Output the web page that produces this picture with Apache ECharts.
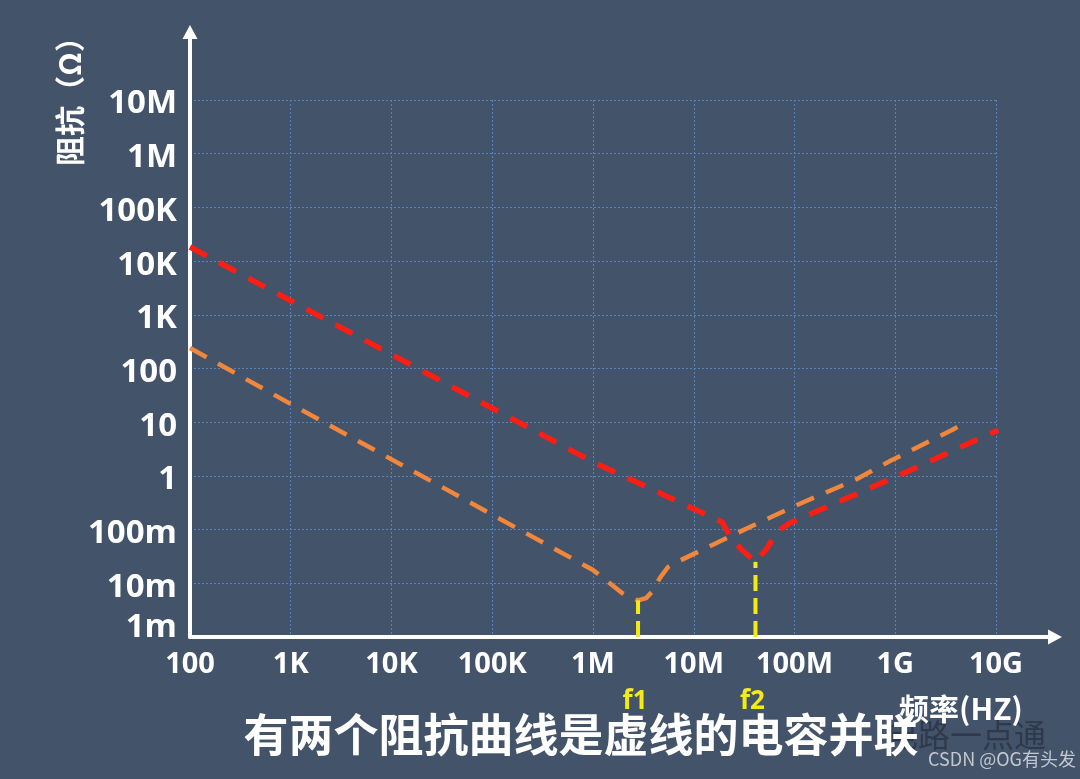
<!DOCTYPE html>
<html>
<head>
<meta charset="utf-8">
<script src="https://cdn.jsdelivr.net/npm/echarts@6/dist/echarts.min.js"></script>
<style>
html,body{margin:0;padding:0;background:#43536a;}
#chart{width:1080px;height:779px;}
</style>
</head>
<body>
<div id="chart"></div>
<script>
// ---- data ----
const xTickLabels = ['100','1K','10K','100K','1M','10M','100M','1G','10G'];
const yTickLabels = ['1m','10m','100m','1','10','100','1K','10K','100K','1M','10M'];

// red dashed impedance curve (capacitor A)
const redFreq      = [100, 1e6, 19.1e6, 22.9e6, 30.1e6, 41e6, 54.6e6, 65.5e6, 90.2e6, 1.11e9, 10.5e9];
const redImpedance = [18300, 1.82, 0.139, 0.076, 0.0417, 0.025, 0.0474, 0.090, 0.133, 1.04, 7.16];

// orange dashed impedance curve (capacitor B)
const orangeFreq      = [100, 1000, 1e6, 1.94e6, 2.8e6, 3.36e6, 3.85e6, 4.62e6, 5.55e6, 6.22e6, 24.5e6, 106e6, 417e6, 887e6, 3.66e9, 4.92e9];
const orangeImpedance = [241, 21.8, 0.0177, 0.0066, 0.0048, 0.0053, 0.0069, 0.0126, 0.0201, 0.0229, 0.0793, 0.287, 0.875, 1.89, 7.16, 9.66];

// resonance markers
const markerNames = ['f1', 'f2'];
const markerFreq  = [2.8e6, 41e6];
const markerTop   = [0.0048, 0.025];

// ---- chart ----
const chart = echarts.init(document.getElementById('chart'));
const FONT = '"Open Sans", "Liberation Sans", Arial, sans-serif';
const CJK = '"Noto Sans CJK SC", sans-serif';

const pairs = (xs, ys) => xs.map((x, i) => [x, ys[i]]);

const markerSeries = markerNames.map((name, i) => ({
  type: 'line',
  xAxisIndex: 0, yAxisIndex: 0,
  symbol: 'circle', symbolSize: 1, showSymbol: true,
  itemStyle: { color: '#f5eb14' },
  lineStyle: { color: '#f5eb14', width: 4, type: [16, 7], cap: 'butt' },
  z: 5,
  silent: true,
  data: [
    { value: [markerFreq[i], 1e-3],
      label: { show: true, formatter: name, position: 'bottom', distance: 51, offset: [-3, 0],
               color: '#f5eb14', fontSize: 26, fontWeight: 'bold', fontFamily: FONT } },
    { value: [markerFreq[i], markerTop[i]] }
  ]
}));

chart.setOption({
  backgroundColor: '#43536a',
  animation: false,
  grid: [
    { left: 190, top: 100, width: 806, height: 537, outerBoundsMode: 'none' },
    { left: 190, top: 32, right: 25, bottom: 142, outerBoundsMode: 'none' }
  ],
  xAxis: [
    {
      gridIndex: 0, type: 'log', logBase: 10, min: 100, max: 1e10, interval: 1,
      axisLine: { show: false }, axisTick: { show: false },
      axisLabel: {
        color: '#ffffff', fontSize: 29, fontWeight: 'bold', fontFamily: FONT, margin: 13,
        formatter: v => xTickLabels[Math.round(Math.log10(v)) - 2]
      },
      splitLine: { show: true, lineStyle: { color: '#5a84bd', width: 1, type: [2, 2] } }
    },
    {
      gridIndex: 1, type: 'value', min: 0, max: 1,
      axisLine: { show: true, onZero: false, symbol: ['none', 'triangle'], symbolSize: [15, 14],
                  lineStyle: { color: '#ffffff', width: 4 } },
      axisTick: { show: false }, axisLabel: { show: false }, splitLine: { show: false }
    }
  ],
  yAxis: [
    {
      gridIndex: 0, type: 'log', logBase: 10, min: 1e-3, max: 1e7, interval: 1,
      axisLine: { show: false }, axisTick: { show: false },
      axisLabel: {
        color: '#ffffff', fontSize: 33, fontWeight: 'bold', fontFamily: FONT, margin: 13,
        padding: [8, 0, 0, 0],
        formatter: v => {
          const idx = Math.round(Math.log10(v)) + 3;
          return idx === 0 ? '{low|' + yTickLabels[idx] + '}' : yTickLabels[idx];
        },
        rich: { low: { color: '#ffffff', fontSize: 33, fontWeight: 'bold', fontFamily: FONT, padding: [0, 0, 26, 0] } }
      },
      splitLine: { show: true, lineStyle: { color: '#5a84bd', width: 1, type: [2, 2] } }
    },
    {
      gridIndex: 1, type: 'value', min: 0, max: 1,
      axisLine: { show: true, onZero: false, symbol: ['none', 'triangle'], symbolSize: [15, 14],
                  lineStyle: { color: '#ffffff', width: 4 } },
      axisTick: { show: false }, axisLabel: { show: false }, splitLine: { show: false }
    }
  ],
  series: [
    {
      type: 'line', xAxisIndex: 0, yAxisIndex: 0, symbol: 'none', clip: false, z: 3,
      lineStyle: { color: '#f0873c', width: 4.5, type: [19, 13], cap: 'butt' },
      data: pairs(orangeFreq, orangeImpedance)
    },
    {
      type: 'line', xAxisIndex: 0, yAxisIndex: 0, symbol: 'none', clip: false, z: 4,
      lineStyle: { color: '#fa1e14', width: 5.5, type: [19, 14], cap: 'butt' },
      data: pairs(redFreq, redImpedance)
    },
    ...markerSeries
  ],
  graphic: [
    { type: 'text', x: 70, y: 94, rotation: Math.PI / 2, z: 10,
      style: { text: '阻抗（Ω）', fill: '#ffffff', font: 'bold 30px ' + CJK, align: 'center', verticalAlign: 'middle' } },
    { type: 'text', x: 961, y: 709, z: 10,
      style: { text: '频率(HZ)', fill: '#ffffff', font: 'bold 30px ' + CJK, align: 'center', verticalAlign: 'middle' } },
    { type: 'text', x: 1046, y: 735, z: 9,
      style: { text: '电路一点通', fill: '#2f394b', font: '32px ' + CJK, align: 'right', verticalAlign: 'middle' } },
    { type: 'text', x: 1076, y: 759, z: 9,
      style: { text: 'CSDN @OG有头发', fill: '#c3c7cf', font: '18px ' + CJK, align: 'right', verticalAlign: 'middle' } },
    { type: 'text', x: 581, y: 735, z: 11,
      style: { text: '有两个阻抗曲线是虚线的电容并联', fill: '#ffffff', font: 'bold 45px ' + CJK, align: 'center', verticalAlign: 'middle' } }
  ]
});
</script>
</body>
</html>
